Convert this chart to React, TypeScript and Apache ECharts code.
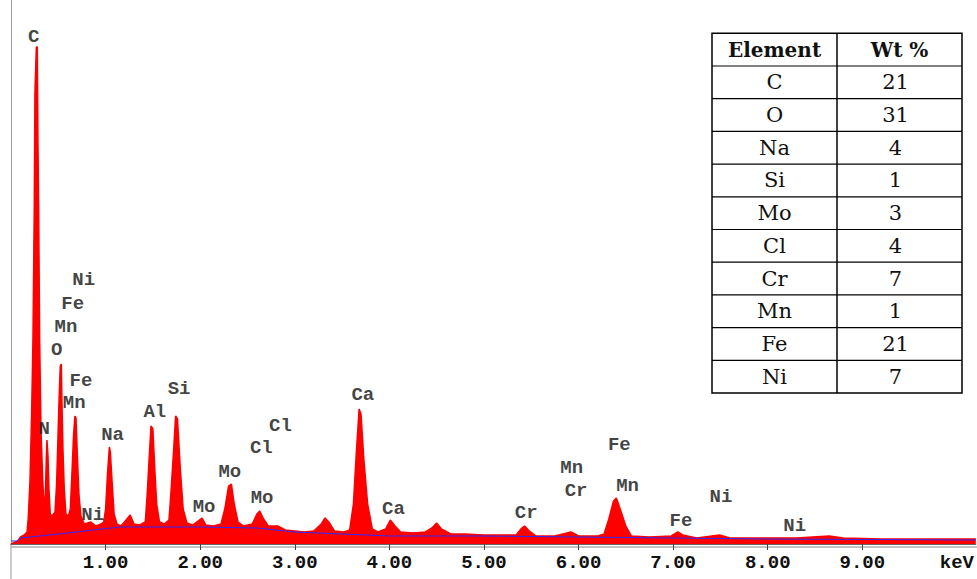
import React, { useEffect, useRef } from "react";
import * as echarts from "echarts";

// Spectrum (energy in keV, counts in arbitrary units)
const spectrumKeV = [
  0.0, 0.05, 0.08, 0.1, 0.14, 0.17, 0.183, 0.201, 0.218, 0.232, 0.246, 0.253, 0.268, 0.278, 0.285,
  0.292, 0.303, 0.317, 0.335, 0.352, 0.363, 0.373, 0.38, 0.391, 0.401, 0.415, 0.436, 0.465, 0.482,
  0.496, 0.51, 0.521, 0.532, 0.539, 0.549, 0.563, 0.581, 0.606, 0.627, 0.644, 0.662, 0.676, 0.687,
  0.701, 0.718, 0.739, 0.775, 0.845, 0.898, 0.951, 0.98, 1.0, 1.02, 1.04, 1.05, 1.07, 1.09, 1.12,
  1.16, 1.2, 1.26, 1.3, 1.36, 1.42, 1.44, 1.46, 1.48, 1.5, 1.52, 1.54, 1.57, 1.62, 1.67, 1.69, 1.72,
  1.74, 1.76, 1.79, 1.82, 1.86, 1.92, 2.02, 2.06, 2.14, 2.22, 2.26, 2.3, 2.33, 2.36, 2.4, 2.46, 2.55,
  2.6, 2.63, 2.67, 2.72, 2.82, 2.9, 3.0, 3.1, 3.2, 3.28, 3.32, 3.36, 3.42, 3.52, 3.58, 3.62, 3.65,
  3.68, 3.7, 3.73, 3.77, 3.82, 3.88, 3.96, 4.01, 4.06, 4.12, 4.25, 4.38, 4.45, 4.5, 4.55, 4.65, 4.8,
  5.0, 5.2, 5.34, 5.4, 5.43, 5.48, 5.55, 5.75, 5.92, 6.0, 6.2, 6.27, 6.32, 6.37, 6.4, 6.44, 6.5,
  6.56, 6.75, 6.98, 7.05, 7.1, 7.25, 7.49, 7.6, 8.0, 8.3, 8.65, 8.8, 9.2, 9.6, 10.2,
];
const spectrumCounts = [
  0, 2, 4, 7, 9, 12, 27, 64, 130, 204, 337, 451, 497, 497, 400,
  337, 204, 114, 64, 34, 50, 85, 104, 88, 55, 30, 28, 32, 60,
  105, 150, 178, 180, 140, 95, 55, 30, 28, 35, 70, 110, 128, 126,
  90, 50, 28, 20, 22, 18, 20, 22, 35, 70, 97, 92, 60, 30, 20,
  18, 22, 29, 20, 19, 22, 50, 85, 118, 115, 75, 40, 22, 20, 24, 50, 95,
  128, 125, 75, 35, 21, 19, 26, 19, 18, 20, 35, 58, 60, 40, 22, 18, 20,
  30, 33, 25, 18, 18, 14, 13, 12, 13, 20, 26, 22, 13, 12, 14, 40, 90,
  135, 130, 85, 40, 15, 12, 15, 24, 18, 12, 11, 12, 16, 21, 15, 10, 10,
  9, 9, 9, 16, 18, 13, 8, 8, 12, 8, 8, 10, 25, 43, 46, 35, 18,
  8, 7, 8, 12, 9, 6, 9, 6, 6, 6, 8, 6, 5, 5, 5,
];

// Background (blue) curve
const backgroundKeV = [0.0, 0.06, 0.1, 0.5, 1.15, 2.0, 2.6, 3.0, 3.5, 4.0, 5.0, 6.0, 8.0, 10.2];
const backgroundCounts = [3, 3, 6, 10, 17, 17, 16, 12, 10, 8, 8, 7, 5, 4];

// Peak labels
const peakLabels = [
  "C", "Ni", "Fe", "Mn", "O", "Fe", "Mn", "N", "Ni", "Na", "Al", "Si", "Cl", "Cl",
  "Mo", "Mo", "Mo", "Ca", "Ca", "Cr", "Cr", "Mn", "Fe", "Mn", "Fe", "Ni", "Ni",
];
const peakLabelKeV = [
  0.24, 0.768, 0.652, 0.581, 0.483, 0.739, 0.668, 0.352, 0.863, 1.074, 1.521, 1.777, 2.848, 2.647,
  2.313, 2.041, 2.654, 3.72, 4.044, 5.446, 5.974, 5.927, 6.431, 6.518, 7.082, 7.505, 8.286,
];
const peakLabelHeight = [
  507, 264, 240, 217, 194, 163, 141, 115, 29, 109, 132, 155, 118, 96,
  72, 37, 46, 149, 35, 31, 53, 76, 99, 58, 23, 47, 18,
];

// Axis ticks
const tickValues = [1, 2, 3, 4, 5, 6, 7, 8, 9];
const labelValues = [1, 2, 3, 4, 5, 6, 7, 8, 9, 10];

// Table
const tableHeader = ["Element", "Wt %"];
const tableElements = ["C", "O", "Na", "Si", "Mo", "Cl", "Cr", "Mn", "Fe", "Ni"];
const tableWt = [21, 31, 4, 1, 3, 4, 7, 1, 21, 7];

const W = 977;
const H = 579;
const AXIS_Y = 544;
const PLOT_LEFT = 11;
const MONO = "'Liberation Mono', 'DejaVu Sans Mono', monospace";

export default function App() {
  const ref = useRef<HTMLDivElement>(null);

  useEffect(() => {
    if (!ref.current) return;
    const chart = echarts.init(ref.current, null, { renderer: "svg" });

    const spectrum = spectrumKeV.map((e, i) => [e, spectrumCounts[i]]);
    const background = backgroundKeV.map((e, i) => [e, backgroundCounts[i]]);
    const labels = peakLabels.map((n, i) => ({ name: n, value: [peakLabelKeV[i], peakLabelHeight[i]] }));

    // table graphics
    const tL = 712, tR = 962, tMid = 837, tTop = 33.3, rowH = 32.7;
    const nRows = tableElements.length + 1;
    const tBottom = tTop + rowH * nRows;
    const tableGraphics: any[] = [];
    tableGraphics.push({
      type: "rect",
      shape: { x: tL, y: tTop, width: tR - tL, height: tBottom - tTop },
      style: { fill: "#fff", stroke: "#000", lineWidth: 1.5 },
      z: 10,
    });
    tableGraphics.push({
      type: "line",
      shape: { x1: tMid, y1: tTop, x2: tMid, y2: tBottom },
      style: { stroke: "#000", lineWidth: 1.5 },
      z: 11,
    });
    for (let r = 1; r < nRows; r++) {
      tableGraphics.push({
        type: "line",
        shape: { x1: tL, y1: tTop + r * rowH, x2: tR, y2: tTop + r * rowH },
        style: { stroke: "#000", lineWidth: 1.2 },
        z: 11,
      });
    }
    const colC1 = (tL + tMid) / 2;
    const colC2 = (tMid + tR) / 2;
    tableHeader.forEach((h, i) => {
      tableGraphics.push({
        type: "text",
        x: i === 0 ? colC1 : colC2,
        y: tTop + rowH / 2,
        style: {
          text: h,
          fill: "#111",
          font: "bold 20px 'DejaVu Serif'",
          align: "center",
          verticalAlign: "middle",
        },
        z: 12,
      });
    });
    tableElements.forEach((el, i) => {
      const cy = tTop + rowH * (i + 1) + rowH / 2;
      tableGraphics.push({
        type: "text",
        x: colC1,
        y: cy,
        style: { text: el, fill: "#111", font: "21px 'DejaVu Serif'", align: "center", verticalAlign: "middle" },
        z: 12,
      });
      tableGraphics.push({
        type: "text",
        x: colC2 - 4,
        y: cy,
        style: { text: String(tableWt[i]), fill: "#111", font: "21px 'DejaVu Serif'", align: "center", verticalAlign: "middle" },
        z: 12,
      });
    });

    const option: any = {
      animation: false,
      backgroundColor: "#ffffff",
      grid: { left: PLOT_LEFT, right: 0, top: 0, bottom: H - AXIS_Y, containLabel: false },
      xAxis: {
        type: "value",
        min: 0,
        max: 10.2,
        interval: 1,
        axisLine: { show: true, lineStyle: { color: "#666", width: 1 } },
        axisTick: {
          show: true,
          length: 6,
          customValues: tickValues,
          lineStyle: { color: "#444", width: 1 },
        },
        axisLabel: {
          show: true,
          customValues: labelValues,
          margin: 9,
          fontFamily: MONO,
          fontWeight: "bold",
          fontSize: 19,
          color: "#111",
          formatter: (v: number) => (Math.abs(v - 10) < 1e-6 ? "keV" : v.toFixed(2)),
        },
        splitLine: { show: false },
      },
      yAxis: {
        type: "value",
        min: 0,
        max: AXIS_Y,
        axisLine: { show: true, onZero: false, lineStyle: { color: "#999", width: 1 } },
        axisTick: { show: false },
        axisLabel: { show: false },
        splitLine: { show: false },
      },
      series: [
        {
          type: "line",
          data: spectrum,
          showSymbol: false,
          symbol: "none",
          lineStyle: { color: "#ff0000", width: 1.5 },
          areaStyle: { color: "#ff0000", opacity: 1 },
          z: 2,
        },
        {
          type: "line",
          data: background,
          showSymbol: false,
          symbol: "none",
          smooth: false,
          lineStyle: { color: "#2b2bff", width: 1 },
          z: 3,
        },
        {
          type: "scatter",
          data: labels,
          symbolSize: 0,
          z: 5,
          label: {
            show: true,
            position: "inside",
            formatter: (p: any) => p.name,
            fontFamily: MONO,
            fontWeight: "bold",
            fontSize: 19,
            color: "#111",
          },
        },
      ],
      graphic: [
        {
          type: "line",
          shape: { x1: PLOT_LEFT, y1: AXIS_Y + 3, x2: W, y2: AXIS_Y + 3 },
          style: { stroke: "#888", lineWidth: 1 },
        },
        {
          type: "line",
          shape: { x1: PLOT_LEFT, y1: AXIS_Y, x2: PLOT_LEFT, y2: H },
          style: { stroke: "#999", lineWidth: 1 },
        },
        ...tableGraphics,
      ],
    };

    chart.setOption(option);
    return () => chart.dispose();
  }, []);

  return (
    <div
      ref={ref}
      style={{ position: "absolute", left: 0, top: 0, width: W, height: H, background: "#fff" }}
    />
  );
}
